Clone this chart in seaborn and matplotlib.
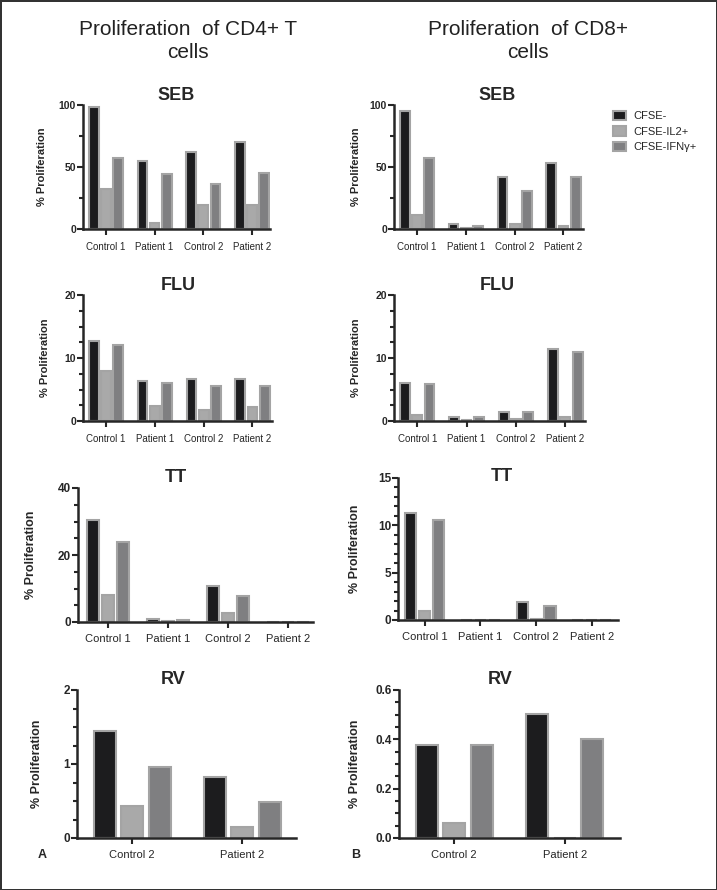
import matplotlib
matplotlib.use("Agg")
import matplotlib.pyplot as plt
from matplotlib.ticker import MultipleLocator
import seaborn as sns
import pandas as pd

# categories
samples_all = ["Control 1", "Patient 1", "Control 2", "Patient 2"]
samples_rv = ["Control 2", "Patient 2"]
markers = ["CFSE-", "CFSE-IL2+", "CFSE-IFNγ+"]

# values, one list per marker (CFSE-, CFSE-IL2+, CFSE-IFNγ+), in sample order
seb_cd4 = [[98, 55, 62, 70], [32, 5, 19, 19], [57, 44, 36, 45]]
seb_cd8 = [[95, 4, 42, 53], [11, 0.8, 4, 2.5], [57, 2.5, 31, 42]]
flu_cd4 = [[12.7, 6.3, 6.6, 6.6], [8.0, 2.4, 1.7, 2.3], [12.1, 6.0, 5.5, 5.5]]
flu_cd8 = [[6.0, 0.6, 1.5, 11.4], [1.0, 0.1, 0.3, 0.7], [5.8, 0.6, 1.4, 11.0]]
tt_cd4 = [[30.4, 0.8, 10.6, 0], [8.2, 0.4, 2.7, 0], [23.9, 0.6, 7.7, 0]]
tt_cd8 = [[11.3, 0.05, 1.9, 0.05], [1.0, 0.03, 0.1, 0.03], [10.6, 0.05, 1.5, 0.05]]
rv_cd4 = [[1.45, 0.82], [0.43, 0.15], [0.96, 0.49]]
rv_cd8 = [[0.377, 0.502], [0.061, 0.0], [0.378, 0.40]]

colors = ["#1c1c1e", "#a9a9a9", "#7f7f81"]
edge = "#a4a4a4"

W, H = 717, 890


def long_df(samples, values):
    rows = []
    for m, vals in zip(markers, values):
        for s, v in zip(samples, vals):
            rows.append({"sample": s, "marker": m, "value": v})
    return pd.DataFrame(rows)


# (values, samples, ymax, major, minor, axes px (l, t, r, b), title, title px, ylabel x px, xlim, font size)
panels = [
    (seb_cd4, samples_all, 100, 50, 25, (83, 105, 270, 229), "SEB", (176, 95), 47, (-0.47, 3.37), 7),
    (seb_cd8, samples_all, 100, 50, 25, (394, 105, 583, 229), "SEB", (497, 95), 361, (-0.47, 3.4), 7),
    (flu_cd4, samples_all, 20, 10, 2.5, (83, 295, 272, 421), "FLU", (178, 285), 50, (-0.47, 3.4), 7),
    (flu_cd8, samples_all, 20, 10, 2.5, (394, 295, 585, 421), "FLU", (497, 285), 361, (-0.47, 3.4), 7),
    (tt_cd4, samples_all, 40, 20, 5, (78, 488, 313, 622), "TT", (176, 478), 37, (-0.5, 3.42), 8),
    (tt_cd8, samples_all, 15, 5, 1, (398, 478, 618, 620), "TT", (502, 477), 361, (-0.48, 3.47), 8),
    (rv_cd4, samples_rv, 2, 1, 0.25, (77, 690, 296, 838), "RV", (173, 679), 43, (-0.5, 1.49), 8),
    (rv_cd8, samples_rv, 0.6, 0.2, 0.05, (399, 690, 620, 838), "RV", (500, 679), 361, (-0.5, 1.5), 8),
]

sns.set_style("ticks")
plt.rcParams["font.family"] = ["Liberation Sans", "DejaVu Sans"]

fig = plt.figure(figsize=(W / 100, H / 100), dpi=100)
fig.patch.set_edgecolor("#333333")
fig.patch.set_linewidth(2)

legend_ax = None
for i, (vals, samples, ymax, major, minor, rect, title, tpos, ylx, xlim, fs) in enumerate(panels):
    l, t, r, b = rect
    ax = fig.add_axes([l / W, 1 - b / H, (r - l) / W, (b - t) / H])
    df = long_df(samples, vals)
    sns.barplot(data=df, x="sample", y="value", hue="marker", order=samples,
                hue_order=markers, palette=colors, saturation=1, width=0.75,
                gap=0.2, edgecolor=edge, linewidth=1.5, errorbar=None,
                legend=(i == 1), ax=ax)
    if i == 1:
        legend_ax = ax
    ax.set_ylim(0, ymax)
    ax.set_xlim(*xlim)
    ax.yaxis.set_major_locator(MultipleLocator(major))
    ax.yaxis.set_minor_locator(MultipleLocator(minor))
    if major < 1:
        ax.yaxis.set_major_formatter(matplotlib.ticker.FormatStrFormatter("%.1f"))
    ax.set_xlabel("")
    ax.set_ylabel("% Proliferation", fontsize=fs + 1, fontweight="bold")
    ax.yaxis.set_label_coords((ylx - l) / (r - l), 0.5)
    for side in ["top", "right"]:
        ax.spines[side].set_visible(False)
    for side in ["left", "bottom"]:
        ax.spines[side].set_linewidth(1.8)
    ax.tick_params(axis="y", which="major", length=4, width=1.5, labelsize=fs + 0.5, pad=1)
    ax.tick_params(axis="y", which="minor", length=3, width=1.5)
    ax.tick_params(axis="x", length=4, width=1.5, labelsize=fs, pad=5)
    for lab in ax.get_yticklabels():
        lab.set_fontweight("bold")
    fig.text(tpos[0] / W, 1 - tpos[1] / H, title, ha="center", va="center",
             fontsize=13, fontweight="bold")

handles, labels = legend_ax.get_legend_handles_labels()
legend_ax.get_legend().remove()
fig.legend(handles, labels, loc="upper left", bbox_to_anchor=(603 / W, 1 - 101 / H),
           frameon=False, fontsize=8, handlelength=1.2, handleheight=0.9,
           labelspacing=0.45, handletextpad=0.6)

col_font = ["Liberation Sans Narrow", "Liberation Sans", "DejaVu Sans"]
fig.text(188 / W, 1 - 41 / H, "Proliferation  of CD4+ T\ncells", ha="center", va="center",
         fontsize=15, family=col_font, linespacing=1.25, color="#222222")
fig.text(528 / W, 1 - 41 / H, "Proliferation  of CD8+\ncells", ha="center", va="center",
         fontsize=15, family=col_font, linespacing=1.25, color="#222222")

fig.text(42 / W, 1 - 855 / H, "A", ha="center", va="center", fontsize=9, fontweight="bold")
fig.text(356 / W, 1 - 855 / H, "B", ha="center", va="center", fontsize=9, fontweight="bold")

fig.savefig("out.png", dpi=100)
